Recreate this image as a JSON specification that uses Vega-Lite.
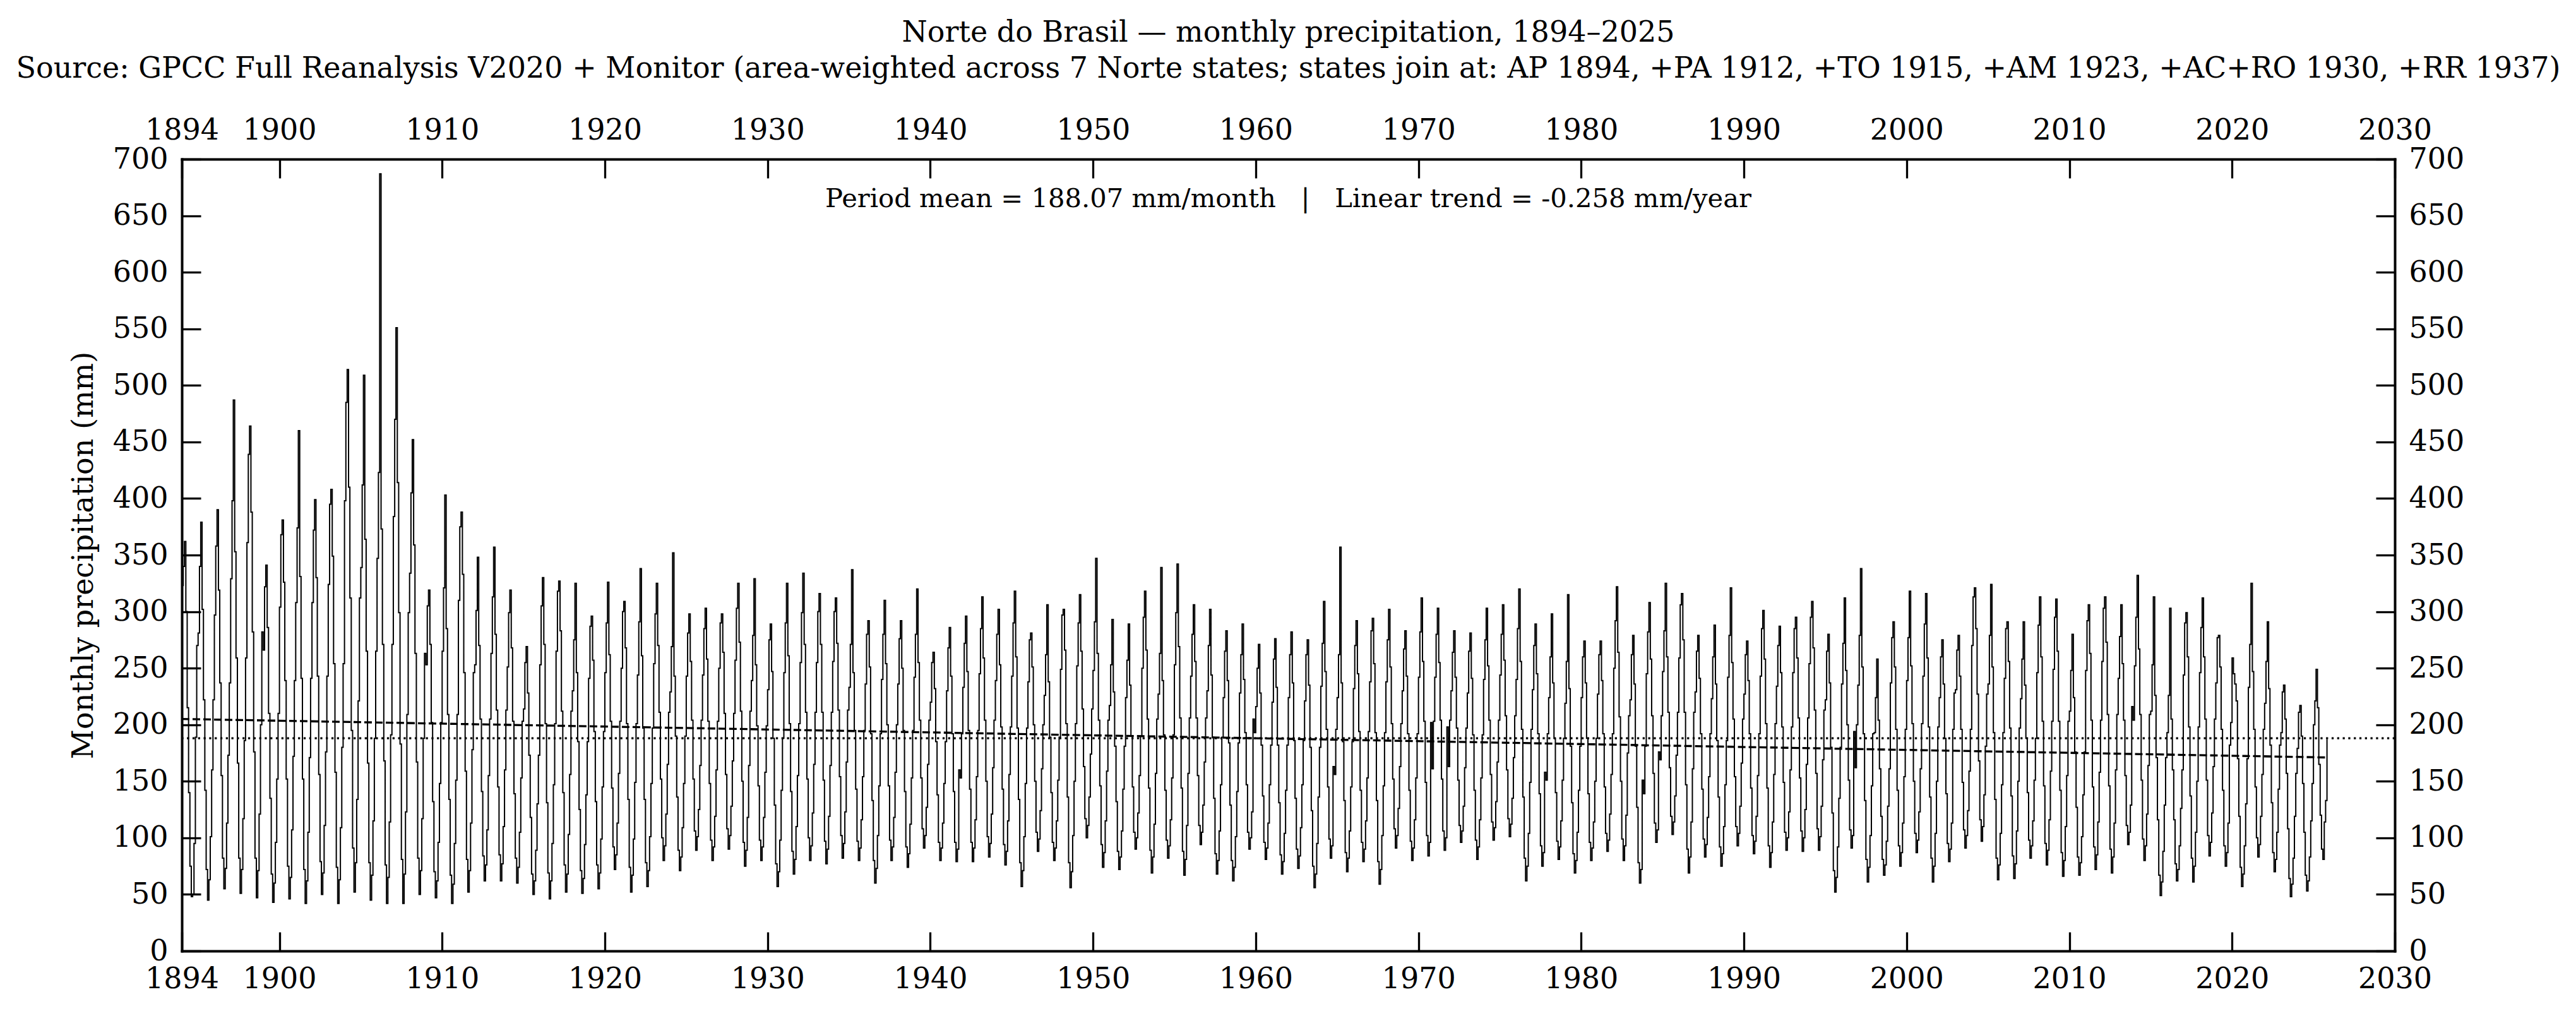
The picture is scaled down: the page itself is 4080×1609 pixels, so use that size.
{
  "$schema": "https://vega.github.io/schema/vega-lite/v6.json",
  "width": 3505,
  "height": 1254,
  "autosize": {"type": "none"},
  "padding": {"left": 288, "top": 252, "right": 287, "bottom": 103},
  "background": "white",
  "title": {
    "text": [
      "Norte do Brasil — monthly precipitation, 1894–2025",
      "Source: GPCC Full Reanalysis V2020 + Monitor (area-weighted across 7 Norte states; states join at: AP 1894, +PA 1912, +TO 1915, +AM 1923, +AC+RO 1930, +RR 1937)"
    ],
    "anchor": "middle",
    "font": "DejaVu Serif",
    "fontSize": 46,
    "fontWeight": "normal",
    "color": "black",
    "lineHeight": 57,
    "offset": 50
  },
  "config": {
    "font": "DejaVu Serif",
    "view": {"stroke": null},
    "axis": {
      "grid": false,
      "domainColor": "black",
      "domainWidth": 4,
      "domainCap": "square",
      "tickColor": "black",
      "tickWidth": 3.3,
      "tickSize": -30,
      "labelColor": "black",
      "labelFont": "DejaVu Serif",
      "labelFontSize": 46,
      "labelPadding": 52,
      "labelFlush": false,
      "labelOverlap": false,
      "labelBound": false,
      "titleFont": "DejaVu Serif",
      "titleFontSize": 46,
      "titleFontWeight": "normal",
      "titleColor": "black"
    }
  },
  "resolve": {"axis": {"x": "independent", "y": "independent"}},
  "layer": [
    {
      "data": {"values": [
{"d":"1894-01","p":323},{"d":"1894-02","p":340},{"d":"1894-03","p":362},{"d":"1894-04","p":300},{"d":"1894-05","p":215},{"d":"1894-06","p":140},{"d":"1894-07","p":75},{"d":"1894-08","p":48},{"d":"1894-09","p":50},{"d":"1894-10","p":95},{"d":"1894-11","p":189},{"d":"1894-12","p":270},
{"d":"1895-01","p":281},{"d":"1895-02","p":340},{"d":"1895-03","p":379},{"d":"1895-04","p":302},{"d":"1895-05","p":222},{"d":"1895-06","p":142},{"d":"1895-07","p":72},{"d":"1895-08","p":45},{"d":"1895-09","p":63},{"d":"1895-10","p":101},{"d":"1895-11","p":160},{"d":"1895-12","p":222},
{"d":"1896-01","p":297},{"d":"1896-02","p":358},{"d":"1896-03","p":390},{"d":"1896-04","p":319},{"d":"1896-05","p":237},{"d":"1896-06","p":155},{"d":"1896-07","p":82},{"d":"1896-08","p":55},{"d":"1896-09","p":73},{"d":"1896-10","p":113},{"d":"1896-11","p":173},{"d":"1896-12","p":237},
{"d":"1897-01","p":329},{"d":"1897-02","p":398},{"d":"1897-03","p":487},{"d":"1897-04","p":353},{"d":"1897-05","p":259},{"d":"1897-06","p":166},{"d":"1897-07","p":82},{"d":"1897-08","p":51},{"d":"1897-09","p":72},{"d":"1897-10","p":117},{"d":"1897-11","p":186},{"d":"1897-12","p":259},
{"d":"1898-01","p":361},{"d":"1898-02","p":439},{"d":"1898-03","p":464},{"d":"1898-04","p":388},{"d":"1898-05","p":282},{"d":"1898-06","p":176},{"d":"1898-07","p":82},{"d":"1898-08","p":47},{"d":"1898-09","p":71},{"d":"1898-10","p":121},{"d":"1898-11","p":200},{"d":"1898-12","p":282},
{"d":"1899-01","p":266},{"d":"1899-02","p":322},{"d":"1899-03","p":341},{"d":"1899-04","p":286},{"d":"1899-05","p":210},{"d":"1899-06","p":135},{"d":"1899-07","p":68},{"d":"1899-08","p":43},{"d":"1899-09","p":60},{"d":"1899-10","p":96},{"d":"1899-11","p":152},{"d":"1899-12","p":210},
{"d":"1900-01","p":304},{"d":"1900-02","p":368},{"d":"1900-03","p":381},{"d":"1900-04","p":326},{"d":"1900-05","p":239},{"d":"1900-06","p":152},{"d":"1900-07","p":75},{"d":"1900-08","p":46},{"d":"1900-09","p":65},{"d":"1900-10","p":107},{"d":"1900-11","p":172},{"d":"1900-12","p":239},
{"d":"1901-01","p":308},{"d":"1901-02","p":374},{"d":"1901-03","p":460},{"d":"1901-04","p":331},{"d":"1901-05","p":241},{"d":"1901-06","p":152},{"d":"1901-07","p":72},{"d":"1901-08","p":42},{"d":"1901-09","p":62},{"d":"1901-10","p":105},{"d":"1901-11","p":171},{"d":"1901-12","p":241},
{"d":"1902-01","p":308},{"d":"1902-02","p":372},{"d":"1902-03","p":399},{"d":"1902-04","p":330},{"d":"1902-05","p":243},{"d":"1902-06","p":156},{"d":"1902-07","p":79},{"d":"1902-08","p":50},{"d":"1902-09","p":69},{"d":"1902-10","p":111},{"d":"1902-11","p":176},{"d":"1902-12","p":243},
{"d":"1903-01","p":324},{"d":"1903-02","p":395},{"d":"1903-03","p":408},{"d":"1903-04","p":349},{"d":"1903-05","p":254},{"d":"1903-06","p":158},{"d":"1903-07","p":74},{"d":"1903-08","p":42},{"d":"1903-09","p":63},{"d":"1903-10","p":109},{"d":"1903-11","p":180},{"d":"1903-12","p":254},
{"d":"1904-01","p":398},{"d":"1904-02","p":485},{"d":"1904-03","p":514},{"d":"1904-04","p":410},{"d":"1904-05","p":312},{"d":"1904-06","p":195},{"d":"1904-07","p":91},{"d":"1904-08","p":52},{"d":"1904-09","p":78},{"d":"1904-10","p":134},{"d":"1904-11","p":221},{"d":"1904-12","p":312},
{"d":"1905-01","p":339},{"d":"1905-02","p":412},{"d":"1905-03","p":509},{"d":"1905-04","p":364},{"d":"1905-05","p":265},{"d":"1905-06","p":166},{"d":"1905-07","p":78},{"d":"1905-08","p":45},{"d":"1905-09","p":67},{"d":"1905-10","p":115},{"d":"1905-11","p":188},{"d":"1905-12","p":265},
{"d":"1906-01","p":347},{"d":"1906-02","p":423},{"d":"1906-03","p":687},{"d":"1906-04","p":373},{"d":"1906-05","p":271},{"d":"1906-06","p":168},{"d":"1906-07","p":76},{"d":"1906-08","p":42},{"d":"1906-09","p":65},{"d":"1906-10","p":114},{"d":"1906-11","p":191},{"d":"1906-12","p":271},
{"d":"1907-01","p":384},{"d":"1907-02","p":470},{"d":"1907-03","p":551},{"d":"1907-04","p":414},{"d":"1907-05","p":299},{"d":"1907-06","p":183},{"d":"1907-07","p":81},{"d":"1907-08","p":42},{"d":"1907-09","p":68},{"d":"1907-10","p":123},{"d":"1907-11","p":209},{"d":"1907-12","p":299},
{"d":"1908-01","p":334},{"d":"1908-02","p":405},{"d":"1908-03","p":452},{"d":"1908-04","p":359},{"d":"1908-05","p":263},{"d":"1908-06","p":167},{"d":"1908-07","p":82},{"d":"1908-08","p":50},{"d":"1908-09","p":71},{"d":"1908-10","p":117},{"d":"1908-11","p":188},{"d":"1908-12","p":263},
{"d":"1909-01","p":253},{"d":"1909-02","p":305},{"d":"1909-03","p":319},{"d":"1909-04","p":271},{"d":"1909-05","p":202},{"d":"1909-06","p":132},{"d":"1909-07","p":70},{"d":"1909-08","p":47},{"d":"1909-09","p":62},{"d":"1909-10","p":96},{"d":"1909-11","p":148},{"d":"1909-12","p":202},
{"d":"1910-01","p":265},{"d":"1910-02","p":321},{"d":"1910-03","p":403},{"d":"1910-04","p":285},{"d":"1910-05","p":209},{"d":"1910-06","p":134},{"d":"1910-07","p":67},{"d":"1910-08","p":42},{"d":"1910-09","p":59},{"d":"1910-10","p":95},{"d":"1910-11","p":151},{"d":"1910-12","p":209},
{"d":"1911-01","p":310},{"d":"1911-02","p":375},{"d":"1911-03","p":388},{"d":"1911-04","p":333},{"d":"1911-05","p":246},{"d":"1911-06","p":159},{"d":"1911-07","p":81},{"d":"1911-08","p":52},{"d":"1911-09","p":71},{"d":"1911-10","p":113},{"d":"1911-11","p":178},{"d":"1911-12","p":246},
{"d":"1912-01","p":253},{"d":"1912-02","p":301},{"d":"1912-03","p":348},{"d":"1912-04","p":270},{"d":"1912-05","p":205},{"d":"1912-06","p":141},{"d":"1912-07","p":84},{"d":"1912-08","p":62},{"d":"1912-09","p":76},{"d":"1912-10","p":107},{"d":"1912-11","p":155},{"d":"1912-12","p":205},
{"d":"1913-01","p":263},{"d":"1913-02","p":313},{"d":"1913-03","p":357},{"d":"1913-04","p":280},{"d":"1913-05","p":213},{"d":"1913-06","p":145},{"d":"1913-07","p":85},{"d":"1913-08","p":62},{"d":"1913-09","p":77},{"d":"1913-10","p":110},{"d":"1913-11","p":160},{"d":"1913-12","p":213},
{"d":"1914-01","p":251},{"d":"1914-02","p":299},{"d":"1914-03","p":319},{"d":"1914-04","p":268},{"d":"1914-05","p":203},{"d":"1914-06","p":139},{"d":"1914-07","p":82},{"d":"1914-08","p":60},{"d":"1914-09","p":74},{"d":"1914-10","p":105},{"d":"1914-11","p":153},{"d":"1914-12","p":203},
{"d":"1915-01","p":214},{"d":"1915-02","p":255},{"d":"1915-03","p":269},{"d":"1915-04","p":228},{"d":"1915-05","p":173},{"d":"1915-06","p":118},{"d":"1915-07","p":68},{"d":"1915-08","p":50},{"d":"1915-09","p":62},{"d":"1915-10","p":89},{"d":"1915-11","p":130},{"d":"1915-12","p":173},
{"d":"1916-01","p":253},{"d":"1916-02","p":305},{"d":"1916-03","p":330},{"d":"1916-04","p":271},{"d":"1916-05","p":201},{"d":"1916-06","p":131},{"d":"1916-07","p":69},{"d":"1916-08","p":46},{"d":"1916-09","p":62},{"d":"1916-10","p":95},{"d":"1916-11","p":147},{"d":"1916-12","p":201},
{"d":"1917-01","p":265},{"d":"1917-02","p":318},{"d":"1917-03","p":327},{"d":"1917-04","p":283},{"d":"1917-05","p":212},{"d":"1917-06","p":140},{"d":"1917-07","p":76},{"d":"1917-08","p":52},{"d":"1917-09","p":68},{"d":"1917-10","p":103},{"d":"1917-11","p":156},{"d":"1917-12","p":212},
{"d":"1918-01","p":230},{"d":"1918-02","p":275},{"d":"1918-03","p":325},{"d":"1918-04","p":246},{"d":"1918-05","p":185},{"d":"1918-06","p":125},{"d":"1918-07","p":71},{"d":"1918-08","p":51},{"d":"1918-09","p":64},{"d":"1918-10","p":94},{"d":"1918-11","p":138},{"d":"1918-12","p":185},
{"d":"1919-01","p":241},{"d":"1919-02","p":287},{"d":"1919-03","p":296},{"d":"1919-04","p":257},{"d":"1919-05","p":194},{"d":"1919-06","p":132},{"d":"1919-07","p":76},{"d":"1919-08","p":55},{"d":"1919-09","p":69},{"d":"1919-10","p":99},{"d":"1919-11","p":145},{"d":"1919-12","p":194},
{"d":"1920-01","p":246},{"d":"1920-02","p":290},{"d":"1920-03","p":326},{"d":"1920-04","p":262},{"d":"1920-05","p":203},{"d":"1920-06","p":144},{"d":"1920-07","p":92},{"d":"1920-08","p":72},{"d":"1920-09","p":85},{"d":"1920-10","p":113},{"d":"1920-11","p":157},{"d":"1920-12","p":203},
{"d":"1921-01","p":250},{"d":"1921-02","p":300},{"d":"1921-03","p":309},{"d":"1921-04","p":268},{"d":"1921-05","p":201},{"d":"1921-06","p":134},{"d":"1921-07","p":74},{"d":"1921-08","p":52},{"d":"1921-09","p":67},{"d":"1921-10","p":99},{"d":"1921-11","p":149},{"d":"1921-12","p":201},
{"d":"1922-01","p":244},{"d":"1922-02","p":291},{"d":"1922-03","p":338},{"d":"1922-04","p":261},{"d":"1922-05","p":197},{"d":"1922-06","p":134},{"d":"1922-07","p":78},{"d":"1922-08","p":57},{"d":"1922-09","p":71},{"d":"1922-10","p":101},{"d":"1922-11","p":148},{"d":"1922-12","p":197},
{"d":"1923-01","p":254},{"d":"1923-02","p":298},{"d":"1923-03","p":325},{"d":"1923-04","p":270},{"d":"1923-05","p":211},{"d":"1923-06","p":152},{"d":"1923-07","p":100},{"d":"1923-08","p":80},{"d":"1923-09","p":93},{"d":"1923-10","p":121},{"d":"1923-11","p":165},{"d":"1923-12","p":211},
{"d":"1924-01","p":229},{"d":"1924-02","p":269},{"d":"1924-03","p":352},{"d":"1924-04","p":243},{"d":"1924-05","p":190},{"d":"1924-06","p":136},{"d":"1924-07","p":89},{"d":"1924-08","p":71},{"d":"1924-09","p":83},{"d":"1924-10","p":109},{"d":"1924-11","p":148},{"d":"1924-12","p":190},
{"d":"1925-01","p":243},{"d":"1925-02","p":281},{"d":"1925-03","p":298},{"d":"1925-04","p":256},{"d":"1925-05","p":204},{"d":"1925-06","p":152},{"d":"1925-07","p":106},{"d":"1925-08","p":89},{"d":"1925-09","p":101},{"d":"1925-10","p":125},{"d":"1925-11","p":164},{"d":"1925-12","p":204},
{"d":"1926-01","p":244},{"d":"1926-02","p":285},{"d":"1926-03","p":303},{"d":"1926-04","p":258},{"d":"1926-05","p":203},{"d":"1926-06","p":148},{"d":"1926-07","p":98},{"d":"1926-08","p":80},{"d":"1926-09","p":92},{"d":"1926-10","p":119},{"d":"1926-11","p":160},{"d":"1926-12","p":203},
{"d":"1927-01","p":250},{"d":"1927-02","p":290},{"d":"1927-03","p":298},{"d":"1927-04","p":264},{"d":"1927-05","p":210},{"d":"1927-06","p":156},{"d":"1927-07","p":108},{"d":"1927-08","p":90},{"d":"1927-09","p":102},{"d":"1927-10","p":128},{"d":"1927-11","p":168},{"d":"1927-12","p":210},
{"d":"1928-01","p":257},{"d":"1928-02","p":303},{"d":"1928-03","p":325},{"d":"1928-04","p":273},{"d":"1928-05","p":212},{"d":"1928-06","p":150},{"d":"1928-07","p":96},{"d":"1928-08","p":75},{"d":"1928-09","p":89},{"d":"1928-10","p":118},{"d":"1928-11","p":164},{"d":"1928-12","p":212},
{"d":"1929-01","p":239},{"d":"1929-02","p":279},{"d":"1929-03","p":329},{"d":"1929-04","p":253},{"d":"1929-05","p":199},{"d":"1929-06","p":146},{"d":"1929-07","p":98},{"d":"1929-08","p":80},{"d":"1929-09","p":92},{"d":"1929-10","p":118},{"d":"1929-11","p":158},{"d":"1929-12","p":199},
{"d":"1930-01","p":231},{"d":"1930-02","p":275},{"d":"1930-03","p":289},{"d":"1930-04","p":247},{"d":"1930-05","p":188},{"d":"1930-06","p":129},{"d":"1930-07","p":77},{"d":"1930-08","p":57},{"d":"1930-09","p":70},{"d":"1930-10","p":98},{"d":"1930-11","p":142},{"d":"1930-12","p":188},
{"d":"1931-01","p":246},{"d":"1931-02","p":290},{"d":"1931-03","p":325},{"d":"1931-04","p":261},{"d":"1931-05","p":201},{"d":"1931-06","p":141},{"d":"1931-07","p":88},{"d":"1931-08","p":68},{"d":"1931-09","p":81},{"d":"1931-10","p":110},{"d":"1931-11","p":155},{"d":"1931-12","p":201},
{"d":"1932-01","p":255},{"d":"1932-02","p":299},{"d":"1932-03","p":334},{"d":"1932-04","p":271},{"d":"1932-05","p":211},{"d":"1932-06","p":152},{"d":"1932-07","p":100},{"d":"1932-08","p":80},{"d":"1932-09","p":93},{"d":"1932-10","p":122},{"d":"1932-11","p":165},{"d":"1932-12","p":211},
{"d":"1933-01","p":255},{"d":"1933-02","p":300},{"d":"1933-03","p":316},{"d":"1933-04","p":271},{"d":"1933-05","p":211},{"d":"1933-06","p":151},{"d":"1933-07","p":97},{"d":"1933-08","p":77},{"d":"1933-09","p":90},{"d":"1933-10","p":119},{"d":"1933-11","p":164},{"d":"1933-12","p":211},
{"d":"1934-01","p":256},{"d":"1934-02","p":300},{"d":"1934-03","p":312},{"d":"1934-04","p":272},{"d":"1934-05","p":213},{"d":"1934-06","p":154},{"d":"1934-07","p":102},{"d":"1934-08","p":82},{"d":"1934-09","p":95},{"d":"1934-10","p":123},{"d":"1934-11","p":167},{"d":"1934-12","p":213},
{"d":"1935-01","p":233},{"d":"1935-02","p":271},{"d":"1935-03","p":337},{"d":"1935-04","p":246},{"d":"1935-05","p":195},{"d":"1935-06","p":143},{"d":"1935-07","p":97},{"d":"1935-08","p":80},{"d":"1935-09","p":91},{"d":"1935-10","p":116},{"d":"1935-11","p":154},{"d":"1935-12","p":195},
{"d":"1936-01","p":236},{"d":"1936-02","p":280},{"d":"1936-03","p":292},{"d":"1936-04","p":251},{"d":"1936-05","p":192},{"d":"1936-06","p":133},{"d":"1936-07","p":80},{"d":"1936-08","p":60},{"d":"1936-09","p":73},{"d":"1936-10","p":102},{"d":"1936-11","p":146},{"d":"1936-12","p":192},
{"d":"1937-01","p":240},{"d":"1937-02","p":280},{"d":"1937-03","p":310},{"d":"1937-04","p":254},{"d":"1937-05","p":200},{"d":"1937-06","p":146},{"d":"1937-07","p":98},{"d":"1937-08","p":80},{"d":"1937-09","p":92},{"d":"1937-10","p":118},{"d":"1937-11","p":158},{"d":"1937-12","p":200},
{"d":"1938-01","p":236},{"d":"1938-02","p":276},{"d":"1938-03","p":292},{"d":"1938-04","p":250},{"d":"1938-05","p":195},{"d":"1938-06","p":141},{"d":"1938-07","p":92},{"d":"1938-08","p":74},{"d":"1938-09","p":86},{"d":"1938-10","p":112},{"d":"1938-11","p":153},{"d":"1938-12","p":195},
{"d":"1939-01","p":242},{"d":"1939-02","p":280},{"d":"1939-03","p":320},{"d":"1939-04","p":255},{"d":"1939-05","p":204},{"d":"1939-06","p":153},{"d":"1939-07","p":108},{"d":"1939-08","p":91},{"d":"1939-09","p":102},{"d":"1939-10","p":127},{"d":"1939-11","p":165},{"d":"1939-12","p":204},
{"d":"1940-01","p":220},{"d":"1940-02","p":255},{"d":"1940-03","p":264},{"d":"1940-04","p":232},{"d":"1940-05","p":185},{"d":"1940-06","p":138},{"d":"1940-07","p":96},{"d":"1940-08","p":80},{"d":"1940-09","p":91},{"d":"1940-10","p":113},{"d":"1940-11","p":148},{"d":"1940-12","p":185},
{"d":"1941-01","p":230},{"d":"1941-02","p":268},{"d":"1941-03","p":286},{"d":"1941-04","p":243},{"d":"1941-05","p":192},{"d":"1941-06","p":141},{"d":"1941-07","p":96},{"d":"1941-08","p":79},{"d":"1941-09","p":90},{"d":"1941-10","p":160},{"d":"1941-11","p":153},{"d":"1941-12","p":192},
{"d":"1942-01","p":233},{"d":"1942-02","p":272},{"d":"1942-03","p":296},{"d":"1942-04","p":247},{"d":"1942-05","p":195},{"d":"1942-06","p":143},{"d":"1942-07","p":96},{"d":"1942-08","p":79},{"d":"1942-09","p":91},{"d":"1942-10","p":116},{"d":"1942-11","p":154},{"d":"1942-12","p":195},
{"d":"1943-01","p":245},{"d":"1943-02","p":285},{"d":"1943-03","p":313},{"d":"1943-04","p":259},{"d":"1943-05","p":204},{"d":"1943-06","p":150},{"d":"1943-07","p":101},{"d":"1943-08","p":83},{"d":"1943-09","p":95},{"d":"1943-10","p":121},{"d":"1943-11","p":162},{"d":"1943-12","p":204},
{"d":"1944-01","p":239},{"d":"1944-02","p":280},{"d":"1944-03","p":302},{"d":"1944-04","p":253},{"d":"1944-05","p":198},{"d":"1944-06","p":143},{"d":"1944-07","p":94},{"d":"1944-08","p":76},{"d":"1944-09","p":88},{"d":"1944-10","p":115},{"d":"1944-11","p":156},{"d":"1944-12","p":198},
{"d":"1945-01","p":243},{"d":"1945-02","p":290},{"d":"1945-03","p":318},{"d":"1945-04","p":260},{"d":"1945-05","p":197},{"d":"1945-06","p":134},{"d":"1945-07","p":78},{"d":"1945-08","p":57},{"d":"1945-09","p":71},{"d":"1945-10","p":101},{"d":"1945-11","p":148},{"d":"1945-12","p":197},
{"d":"1946-01","p":238},{"d":"1946-02","p":275},{"d":"1946-03","p":281},{"d":"1946-04","p":251},{"d":"1946-05","p":200},{"d":"1946-06","p":150},{"d":"1946-07","p":105},{"d":"1946-08","p":88},{"d":"1946-09","p":99},{"d":"1946-10","p":124},{"d":"1946-11","p":161},{"d":"1946-12","p":200},
{"d":"1947-01","p":226},{"d":"1947-02","p":262},{"d":"1947-03","p":306},{"d":"1947-04","p":238},{"d":"1947-05","p":189},{"d":"1947-06","p":140},{"d":"1947-07","p":96},{"d":"1947-08","p":80},{"d":"1947-09","p":91},{"d":"1947-10","p":115},{"d":"1947-11","p":151},{"d":"1947-12","p":189},
{"d":"1948-01","p":249},{"d":"1948-02","p":297},{"d":"1948-03","p":302},{"d":"1948-04","p":266},{"d":"1948-05","p":201},{"d":"1948-06","p":136},{"d":"1948-07","p":78},{"d":"1948-08","p":56},{"d":"1948-09","p":70},{"d":"1948-10","p":102},{"d":"1948-11","p":150},{"d":"1948-12","p":201},
{"d":"1949-01","p":252},{"d":"1949-02","p":290},{"d":"1949-03","p":315},{"d":"1949-04","p":265},{"d":"1949-05","p":214},{"d":"1949-06","p":163},{"d":"1949-07","p":117},{"d":"1949-08","p":100},{"d":"1949-09","p":111},{"d":"1949-10","p":136},{"d":"1949-11","p":174},{"d":"1949-12","p":214},
{"d":"1950-01","p":248},{"d":"1950-02","p":291},{"d":"1950-03","p":347},{"d":"1950-04","p":263},{"d":"1950-05","p":204},{"d":"1950-06","p":146},{"d":"1950-07","p":94},{"d":"1950-08","p":74},{"d":"1950-09","p":87},{"d":"1950-10","p":115},{"d":"1950-11","p":159},{"d":"1950-12","p":204},
{"d":"1951-01","p":217},{"d":"1951-02","p":253},{"d":"1951-03","p":293},{"d":"1951-04","p":229},{"d":"1951-05","p":181},{"d":"1951-06","p":132},{"d":"1951-07","p":88},{"d":"1951-08","p":72},{"d":"1951-09","p":83},{"d":"1951-10","p":106},{"d":"1951-11","p":143},{"d":"1951-12","p":181},
{"d":"1952-01","p":224},{"d":"1952-02","p":257},{"d":"1952-03","p":289},{"d":"1952-04","p":235},{"d":"1952-05","p":190},{"d":"1952-06","p":145},{"d":"1952-07","p":105},{"d":"1952-08","p":90},{"d":"1952-09","p":100},{"d":"1952-10","p":122},{"d":"1952-11","p":155},{"d":"1952-12","p":190},
{"d":"1953-01","p":250},{"d":"1953-02","p":295},{"d":"1953-03","p":318},{"d":"1953-04","p":266},{"d":"1953-05","p":205},{"d":"1953-06","p":144},{"d":"1953-07","p":89},{"d":"1953-08","p":69},{"d":"1953-09","p":83},{"d":"1953-10","p":112},{"d":"1953-11","p":157},{"d":"1953-12","p":205},
{"d":"1954-01","p":227},{"d":"1954-02","p":263},{"d":"1954-03","p":339},{"d":"1954-04","p":239},{"d":"1954-05","p":191},{"d":"1954-06","p":142},{"d":"1954-07","p":98},{"d":"1954-08","p":82},{"d":"1954-09","p":93},{"d":"1954-10","p":116},{"d":"1954-11","p":153},{"d":"1954-12","p":191},
{"d":"1955-01","p":253},{"d":"1955-02","p":299},{"d":"1955-03","p":342},{"d":"1955-04","p":269},{"d":"1955-05","p":206},{"d":"1955-06","p":144},{"d":"1955-07","p":88},{"d":"1955-08","p":67},{"d":"1955-09","p":81},{"d":"1955-10","p":111},{"d":"1955-11","p":157},{"d":"1955-12","p":206},
{"d":"1956-01","p":243},{"d":"1956-02","p":280},{"d":"1956-03","p":306},{"d":"1956-04","p":256},{"d":"1956-05","p":206},{"d":"1956-06","p":155},{"d":"1956-07","p":111},{"d":"1956-08","p":94},{"d":"1956-09","p":105},{"d":"1956-10","p":129},{"d":"1956-11","p":167},{"d":"1956-12","p":206},
{"d":"1957-01","p":230},{"d":"1957-02","p":270},{"d":"1957-03","p":302},{"d":"1957-04","p":244},{"d":"1957-05","p":189},{"d":"1957-06","p":135},{"d":"1957-07","p":86},{"d":"1957-08","p":68},{"d":"1957-09","p":80},{"d":"1957-10","p":106},{"d":"1957-11","p":147},{"d":"1957-12","p":189},
{"d":"1958-01","p":224},{"d":"1958-02","p":265},{"d":"1958-03","p":283},{"d":"1958-04","p":239},{"d":"1958-05","p":184},{"d":"1958-06","p":129},{"d":"1958-07","p":80},{"d":"1958-08","p":62},{"d":"1958-09","p":74},{"d":"1958-10","p":101},{"d":"1958-11","p":141},{"d":"1958-12","p":184},
{"d":"1959-01","p":228},{"d":"1959-02","p":262},{"d":"1959-03","p":289},{"d":"1959-04","p":240},{"d":"1959-05","p":193},{"d":"1959-06","p":147},{"d":"1959-07","p":105},{"d":"1959-08","p":90},{"d":"1959-09","p":100},{"d":"1959-10","p":123},{"d":"1959-11","p":205},{"d":"1959-12","p":193},
{"d":"1960-01","p":216},{"d":"1960-02","p":250},{"d":"1960-03","p":271},{"d":"1960-04","p":228},{"d":"1960-05","p":182},{"d":"1960-06","p":137},{"d":"1960-07","p":96},{"d":"1960-08","p":81},{"d":"1960-09","p":91},{"d":"1960-10","p":113},{"d":"1960-11","p":147},{"d":"1960-12","p":182},
{"d":"1961-01","p":220},{"d":"1961-02","p":258},{"d":"1961-03","p":276},{"d":"1961-04","p":233},{"d":"1961-05","p":182},{"d":"1961-06","p":131},{"d":"1961-07","p":85},{"d":"1961-08","p":68},{"d":"1961-09","p":79},{"d":"1961-10","p":104},{"d":"1961-11","p":142},{"d":"1961-12","p":182},
{"d":"1962-01","p":224},{"d":"1962-02","p":262},{"d":"1962-03","p":282},{"d":"1962-04","p":237},{"d":"1962-05","p":186},{"d":"1962-06","p":135},{"d":"1962-07","p":90},{"d":"1962-08","p":73},{"d":"1962-09","p":84},{"d":"1962-10","p":109},{"d":"1962-11","p":147},{"d":"1962-12","p":186},
{"d":"1963-01","p":221},{"d":"1963-02","p":262},{"d":"1963-03","p":275},{"d":"1963-04","p":235},{"d":"1963-05","p":180},{"d":"1963-06","p":124},{"d":"1963-07","p":75},{"d":"1963-08","p":56},{"d":"1963-09","p":68},{"d":"1963-10","p":95},{"d":"1963-11","p":136},{"d":"1963-12","p":180},
{"d":"1964-01","p":234},{"d":"1964-02","p":272},{"d":"1964-03","p":309},{"d":"1964-04","p":247},{"d":"1964-05","p":196},{"d":"1964-06","p":145},{"d":"1964-07","p":99},{"d":"1964-08","p":82},{"d":"1964-09","p":93},{"d":"1964-10","p":163},{"d":"1964-11","p":156},{"d":"1964-12","p":196},
{"d":"1965-01","p":224},{"d":"1965-02","p":262},{"d":"1965-03","p":357},{"d":"1965-04","p":237},{"d":"1965-05","p":185},{"d":"1965-06","p":133},{"d":"1965-07","p":87},{"d":"1965-08","p":70},{"d":"1965-09","p":82},{"d":"1965-10","p":106},{"d":"1965-11","p":145},{"d":"1965-12","p":185},
{"d":"1966-01","p":232},{"d":"1966-02","p":270},{"d":"1966-03","p":292},{"d":"1966-04","p":245},{"d":"1966-05","p":194},{"d":"1966-06","p":142},{"d":"1966-07","p":96},{"d":"1966-08","p":79},{"d":"1966-09","p":90},{"d":"1966-10","p":115},{"d":"1966-11","p":153},{"d":"1966-12","p":194},
{"d":"1967-01","p":238},{"d":"1967-02","p":283},{"d":"1967-03","p":294},{"d":"1967-04","p":254},{"d":"1967-05","p":193},{"d":"1967-06","p":133},{"d":"1967-07","p":79},{"d":"1967-08","p":59},{"d":"1967-09","p":72},{"d":"1967-10","p":102},{"d":"1967-11","p":146},{"d":"1967-12","p":193},
{"d":"1968-01","p":238},{"d":"1968-02","p":275},{"d":"1968-03","p":302},{"d":"1968-04","p":251},{"d":"1968-05","p":201},{"d":"1968-06","p":152},{"d":"1968-07","p":108},{"d":"1968-08","p":91},{"d":"1968-09","p":102},{"d":"1968-10","p":126},{"d":"1968-11","p":163},{"d":"1968-12","p":201},
{"d":"1969-01","p":230},{"d":"1969-02","p":267},{"d":"1969-03","p":283},{"d":"1969-04","p":243},{"d":"1969-05","p":192},{"d":"1969-06","p":142},{"d":"1969-07","p":97},{"d":"1969-08","p":80},{"d":"1969-09","p":91},{"d":"1969-10","p":116},{"d":"1969-11","p":153},{"d":"1969-12","p":192},
{"d":"1970-01","p":242},{"d":"1970-02","p":282},{"d":"1970-03","p":312},{"d":"1970-04","p":256},{"d":"1970-05","p":203},{"d":"1970-06","p":149},{"d":"1970-07","p":102},{"d":"1970-08","p":84},{"d":"1970-09","p":96},{"d":"1970-10","p":202},{"d":"1970-11","p":161},{"d":"1970-12","p":203},
{"d":"1971-01","p":242},{"d":"1971-02","p":280},{"d":"1971-03","p":303},{"d":"1971-04","p":255},{"d":"1971-05","p":204},{"d":"1971-06","p":152},{"d":"1971-07","p":106},{"d":"1971-08","p":89},{"d":"1971-09","p":100},{"d":"1971-10","p":198},{"d":"1971-11","p":163},{"d":"1971-12","p":204},
{"d":"1972-01","p":230},{"d":"1972-02","p":264},{"d":"1972-03","p":283},{"d":"1972-04","p":242},{"d":"1972-05","p":197},{"d":"1972-06","p":151},{"d":"1972-07","p":111},{"d":"1972-08","p":96},{"d":"1972-09","p":106},{"d":"1972-10","p":128},{"d":"1972-11","p":162},{"d":"1972-12","p":197},
{"d":"1973-01","p":228},{"d":"1973-02","p":265},{"d":"1973-03","p":281},{"d":"1973-04","p":241},{"d":"1973-05","p":191},{"d":"1973-06","p":142},{"d":"1973-07","p":98},{"d":"1973-08","p":81},{"d":"1973-09","p":92},{"d":"1973-10","p":116},{"d":"1973-11","p":153},{"d":"1973-12","p":191},
{"d":"1974-01","p":240},{"d":"1974-02","p":275},{"d":"1974-03","p":303},{"d":"1974-04","p":252},{"d":"1974-05","p":204},{"d":"1974-06","p":156},{"d":"1974-07","p":114},{"d":"1974-08","p":98},{"d":"1974-09","p":109},{"d":"1974-10","p":132},{"d":"1974-11","p":167},{"d":"1974-12","p":204},
{"d":"1975-01","p":244},{"d":"1975-02","p":280},{"d":"1975-03","p":306},{"d":"1975-04","p":257},{"d":"1975-05","p":208},{"d":"1975-06","p":160},{"d":"1975-07","p":117},{"d":"1975-08","p":101},{"d":"1975-09","p":112},{"d":"1975-10","p":135},{"d":"1975-11","p":171},{"d":"1975-12","p":208},
{"d":"1976-01","p":240},{"d":"1976-02","p":285},{"d":"1976-03","p":320},{"d":"1976-04","p":256},{"d":"1976-05","p":196},{"d":"1976-06","p":136},{"d":"1976-07","p":82},{"d":"1976-08","p":62},{"d":"1976-09","p":75},{"d":"1976-10","p":104},{"d":"1976-11","p":149},{"d":"1976-12","p":196},
{"d":"1977-01","p":231},{"d":"1977-02","p":270},{"d":"1977-03","p":289},{"d":"1977-04","p":245},{"d":"1977-05","p":192},{"d":"1977-06","p":139},{"d":"1977-07","p":93},{"d":"1977-08","p":75},{"d":"1977-09","p":87},{"d":"1977-10","p":158},{"d":"1977-11","p":151},{"d":"1977-12","p":192},
{"d":"1978-01","p":224},{"d":"1978-02","p":260},{"d":"1978-03","p":298},{"d":"1978-04","p":237},{"d":"1978-05","p":188},{"d":"1978-06","p":140},{"d":"1978-07","p":97},{"d":"1978-08","p":81},{"d":"1978-09","p":92},{"d":"1978-10","p":115},{"d":"1978-11","p":151},{"d":"1978-12","p":188},
{"d":"1979-01","p":219},{"d":"1979-02","p":256},{"d":"1979-03","p":315},{"d":"1979-04","p":232},{"d":"1979-05","p":181},{"d":"1979-06","p":131},{"d":"1979-07","p":86},{"d":"1979-08","p":69},{"d":"1979-09","p":80},{"d":"1979-10","p":105},{"d":"1979-11","p":142},{"d":"1979-12","p":181},
{"d":"1980-01","p":224},{"d":"1980-02","p":260},{"d":"1980-03","p":274},{"d":"1980-04","p":237},{"d":"1980-05","p":188},{"d":"1980-06","p":139},{"d":"1980-07","p":96},{"d":"1980-08","p":80},{"d":"1980-09","p":91},{"d":"1980-10","p":114},{"d":"1980-11","p":150},{"d":"1980-12","p":188},
{"d":"1981-01","p":227},{"d":"1981-02","p":262},{"d":"1981-03","p":274},{"d":"1981-04","p":239},{"d":"1981-05","p":192},{"d":"1981-06","p":145},{"d":"1981-07","p":104},{"d":"1981-08","p":88},{"d":"1981-09","p":98},{"d":"1981-10","p":121},{"d":"1981-11","p":156},{"d":"1981-12","p":192},
{"d":"1982-01","p":250},{"d":"1982-02","p":292},{"d":"1982-03","p":322},{"d":"1982-04","p":264},{"d":"1982-05","p":207},{"d":"1982-06","p":150},{"d":"1982-07","p":99},{"d":"1982-08","p":80},{"d":"1982-09","p":93},{"d":"1982-10","p":120},{"d":"1982-11","p":175},{"d":"1982-12","p":208},
{"d":"1983-01","p":222},{"d":"1983-02","p":262},{"d":"1983-03","p":279},{"d":"1983-04","p":236},{"d":"1983-05","p":181},{"d":"1983-06","p":127},{"d":"1983-07","p":78},{"d":"1983-08","p":60},{"d":"1983-09","p":72},{"d":"1983-10","p":151},{"d":"1983-11","p":139},{"d":"1983-12","p":181},
{"d":"1984-01","p":245},{"d":"1984-02","p":282},{"d":"1984-03","p":308},{"d":"1984-04","p":258},{"d":"1984-05","p":208},{"d":"1984-06","p":157},{"d":"1984-07","p":113},{"d":"1984-08","p":96},{"d":"1984-09","p":107},{"d":"1984-10","p":176},{"d":"1984-11","p":169},{"d":"1984-12","p":208},
{"d":"1985-01","p":247},{"d":"1985-02","p":283},{"d":"1985-03","p":325},{"d":"1985-04","p":260},{"d":"1985-05","p":211},{"d":"1985-06","p":162},{"d":"1985-07","p":119},{"d":"1985-08","p":103},{"d":"1985-09","p":114},{"d":"1985-10","p":137},{"d":"1985-11","p":173},{"d":"1985-12","p":211},
{"d":"1986-01","p":259},{"d":"1986-02","p":306},{"d":"1986-03","p":316},{"d":"1986-04","p":275},{"d":"1986-05","p":211},{"d":"1986-06","p":147},{"d":"1986-07","p":90},{"d":"1986-08","p":69},{"d":"1986-09","p":83},{"d":"1986-10","p":114},{"d":"1986-11","p":161},{"d":"1986-12","p":211},
{"d":"1987-01","p":229},{"d":"1987-02","p":265},{"d":"1987-03","p":279},{"d":"1987-04","p":241},{"d":"1987-05","p":192},{"d":"1987-06","p":143},{"d":"1987-07","p":99},{"d":"1987-08","p":83},{"d":"1987-09","p":94},{"d":"1987-10","p":118},{"d":"1987-11","p":154},{"d":"1987-12","p":192},
{"d":"1988-01","p":223},{"d":"1988-02","p":260},{"d":"1988-03","p":288},{"d":"1988-04","p":236},{"d":"1988-05","p":186},{"d":"1988-06","p":136},{"d":"1988-07","p":92},{"d":"1988-08","p":75},{"d":"1988-09","p":86},{"d":"1988-10","p":110},{"d":"1988-11","p":147},{"d":"1988-12","p":186},
{"d":"1989-01","p":242},{"d":"1989-02","p":279},{"d":"1989-03","p":321},{"d":"1989-04","p":255},{"d":"1989-05","p":205},{"d":"1989-06","p":154},{"d":"1989-07","p":110},{"d":"1989-08","p":93},{"d":"1989-09","p":104},{"d":"1989-10","p":128},{"d":"1989-11","p":166},{"d":"1989-12","p":205},
{"d":"1990-01","p":227},{"d":"1990-02","p":262},{"d":"1990-03","p":274},{"d":"1990-04","p":239},{"d":"1990-05","p":192},{"d":"1990-06","p":144},{"d":"1990-07","p":102},{"d":"1990-08","p":86},{"d":"1990-09","p":97},{"d":"1990-10","p":119},{"d":"1990-11","p":155},{"d":"1990-12","p":192},
{"d":"1991-01","p":243},{"d":"1991-02","p":285},{"d":"1991-03","p":301},{"d":"1991-04","p":258},{"d":"1991-05","p":201},{"d":"1991-06","p":144},{"d":"1991-07","p":93},{"d":"1991-08","p":74},{"d":"1991-09","p":87},{"d":"1991-10","p":114},{"d":"1991-11","p":156},{"d":"1991-12","p":201},
{"d":"1992-01","p":234},{"d":"1992-02","p":270},{"d":"1992-03","p":287},{"d":"1992-04","p":246},{"d":"1992-05","p":198},{"d":"1992-06","p":149},{"d":"1992-07","p":105},{"d":"1992-08","p":89},{"d":"1992-09","p":100},{"d":"1992-10","p":123},{"d":"1992-11","p":160},{"d":"1992-12","p":198},
{"d":"1993-01","p":246},{"d":"1993-02","p":285},{"d":"1993-03","p":295},{"d":"1993-04","p":259},{"d":"1993-05","p":206},{"d":"1993-06","p":153},{"d":"1993-07","p":106},{"d":"1993-08","p":88},{"d":"1993-09","p":100},{"d":"1993-10","p":125},{"d":"1993-11","p":165},{"d":"1993-12","p":206},
{"d":"1994-01","p":254},{"d":"1994-02","p":295},{"d":"1994-03","p":309},{"d":"1994-04","p":268},{"d":"1994-05","p":213},{"d":"1994-06","p":157},{"d":"1994-07","p":108},{"d":"1994-08","p":89},{"d":"1994-09","p":101},{"d":"1994-10","p":128},{"d":"1994-11","p":169},{"d":"1994-12","p":213},
{"d":"1995-01","p":222},{"d":"1995-02","p":265},{"d":"1995-03","p":280},{"d":"1995-04","p":237},{"d":"1995-05","p":180},{"d":"1995-06","p":122},{"d":"1995-07","p":71},{"d":"1995-08","p":52},{"d":"1995-09","p":65},{"d":"1995-10","p":92},{"d":"1995-11","p":135},{"d":"1995-12","p":180},
{"d":"1996-01","p":236},{"d":"1996-02","p":272},{"d":"1996-03","p":312},{"d":"1996-04","p":248},{"d":"1996-05","p":200},{"d":"1996-06","p":151},{"d":"1996-07","p":107},{"d":"1996-08","p":91},{"d":"1996-09","p":102},{"d":"1996-10","p":194},{"d":"1996-11","p":162},{"d":"1996-12","p":200},
{"d":"1997-01","p":235},{"d":"1997-02","p":279},{"d":"1997-03","p":338},{"d":"1997-04","p":251},{"d":"1997-05","p":192},{"d":"1997-06","p":133},{"d":"1997-07","p":81},{"d":"1997-08","p":61},{"d":"1997-09","p":74},{"d":"1997-10","p":102},{"d":"1997-11","p":146},{"d":"1997-12","p":192},
{"d":"1998-01","p":193},{"d":"1998-02","p":224},{"d":"1998-03","p":258},{"d":"1998-04","p":204},{"d":"1998-05","p":161},{"d":"1998-06","p":119},{"d":"1998-07","p":81},{"d":"1998-08","p":67},{"d":"1998-09","p":76},{"d":"1998-10","p":97},{"d":"1998-11","p":128},{"d":"1998-12","p":161},
{"d":"1999-01","p":237},{"d":"1999-02","p":277},{"d":"1999-03","p":291},{"d":"1999-04","p":251},{"d":"1999-05","p":196},{"d":"1999-06","p":142},{"d":"1999-07","p":93},{"d":"1999-08","p":75},{"d":"1999-09","p":87},{"d":"1999-10","p":113},{"d":"1999-11","p":154},{"d":"1999-12","p":196},
{"d":"2000-01","p":239},{"d":"2000-02","p":277},{"d":"2000-03","p":318},{"d":"2000-04","p":252},{"d":"2000-05","p":201},{"d":"2000-06","p":150},{"d":"2000-07","p":104},{"d":"2000-08","p":87},{"d":"2000-09","p":98},{"d":"2000-10","p":123},{"d":"2000-11","p":161},{"d":"2000-12","p":201},
{"d":"2001-01","p":243},{"d":"2001-02","p":289},{"d":"2001-03","p":316},{"d":"2001-04","p":259},{"d":"2001-05","p":198},{"d":"2001-06","p":136},{"d":"2001-07","p":82},{"d":"2001-08","p":61},{"d":"2001-09","p":75},{"d":"2001-10","p":104},{"d":"2001-11","p":150},{"d":"2001-12","p":198},
{"d":"2002-01","p":224},{"d":"2002-02","p":260},{"d":"2002-03","p":275},{"d":"2002-04","p":236},{"d":"2002-05","p":188},{"d":"2002-06","p":139},{"d":"2002-07","p":95},{"d":"2002-08","p":79},{"d":"2002-09","p":90},{"d":"2002-10","p":113},{"d":"2002-11","p":196},{"d":"2002-12","p":228},
{"d":"2003-01","p":231},{"d":"2003-02","p":266},{"d":"2003-03","p":279},{"d":"2003-04","p":243},{"d":"2003-05","p":196},{"d":"2003-06","p":149},{"d":"2003-07","p":107},{"d":"2003-08","p":91},{"d":"2003-09","p":102},{"d":"2003-10","p":124},{"d":"2003-11","p":159},{"d":"2003-12","p":196},
{"d":"2004-01","p":270},{"d":"2004-02","p":313},{"d":"2004-03","p":321},{"d":"2004-04","p":285},{"d":"2004-05","p":227},{"d":"2004-06","p":168},{"d":"2004-07","p":116},{"d":"2004-08","p":97},{"d":"2004-09","p":110},{"d":"2004-10","p":138},{"d":"2004-11","p":181},{"d":"2004-12","p":227},
{"d":"2005-01","p":236},{"d":"2005-02","p":279},{"d":"2005-03","p":324},{"d":"2005-04","p":251},{"d":"2005-05","p":193},{"d":"2005-06","p":134},{"d":"2005-07","p":82},{"d":"2005-08","p":63},{"d":"2005-09","p":76},{"d":"2005-10","p":104},{"d":"2005-11","p":147},{"d":"2005-12","p":193},
{"d":"2006-01","p":241},{"d":"2006-02","p":285},{"d":"2006-03","p":291},{"d":"2006-04","p":256},{"d":"2006-05","p":197},{"d":"2006-06","p":137},{"d":"2006-07","p":84},{"d":"2006-08","p":64},{"d":"2006-09","p":77},{"d":"2006-10","p":106},{"d":"2006-11","p":150},{"d":"2006-12","p":197},
{"d":"2007-01","p":223},{"d":"2007-02","p":258},{"d":"2007-03","p":291},{"d":"2007-04","p":235},{"d":"2007-05","p":188},{"d":"2007-06","p":140},{"d":"2007-07","p":98},{"d":"2007-08","p":82},{"d":"2007-09","p":93},{"d":"2007-10","p":115},{"d":"2007-11","p":151},{"d":"2007-12","p":188},
{"d":"2008-01","p":246},{"d":"2008-02","p":288},{"d":"2008-03","p":313},{"d":"2008-04","p":260},{"d":"2008-05","p":203},{"d":"2008-06","p":146},{"d":"2008-07","p":95},{"d":"2008-08","p":76},{"d":"2008-09","p":89},{"d":"2008-10","p":116},{"d":"2008-11","p":159},{"d":"2008-12","p":203},
{"d":"2009-01","p":249},{"d":"2009-02","p":295},{"d":"2009-03","p":311},{"d":"2009-04","p":265},{"d":"2009-05","p":203},{"d":"2009-06","p":142},{"d":"2009-07","p":87},{"d":"2009-08","p":66},{"d":"2009-09","p":80},{"d":"2009-10","p":110},{"d":"2009-11","p":155},{"d":"2009-12","p":203},
{"d":"2010-01","p":212},{"d":"2010-02","p":248},{"d":"2010-03","p":280},{"d":"2010-04","p":224},{"d":"2010-05","p":176},{"d":"2010-06","p":127},{"d":"2010-07","p":83},{"d":"2010-08","p":67},{"d":"2010-09","p":78},{"d":"2010-10","p":101},{"d":"2010-11","p":138},{"d":"2010-12","p":176},
{"d":"2011-01","p":248},{"d":"2011-02","p":292},{"d":"2011-03","p":306},{"d":"2011-04","p":263},{"d":"2011-05","p":204},{"d":"2011-06","p":145},{"d":"2011-07","p":92},{"d":"2011-08","p":72},{"d":"2011-09","p":85},{"d":"2011-10","p":114},{"d":"2011-11","p":158},{"d":"2011-12","p":204},
{"d":"2012-01","p":256},{"d":"2012-02","p":303},{"d":"2012-03","p":313},{"d":"2012-04","p":273},{"d":"2012-05","p":209},{"d":"2012-06","p":146},{"d":"2012-07","p":90},{"d":"2012-08","p":69},{"d":"2012-09","p":83},{"d":"2012-10","p":113},{"d":"2012-11","p":160},{"d":"2012-12","p":209},
{"d":"2013-01","p":241},{"d":"2013-02","p":278},{"d":"2013-03","p":306},{"d":"2013-04","p":254},{"d":"2013-05","p":204},{"d":"2013-06","p":155},{"d":"2013-07","p":111},{"d":"2013-08","p":94},{"d":"2013-09","p":105},{"d":"2013-10","p":129},{"d":"2013-11","p":216},{"d":"2013-12","p":204},
{"d":"2014-01","p":252},{"d":"2014-02","p":295},{"d":"2014-03","p":332},{"d":"2014-04","p":267},{"d":"2014-05","p":209},{"d":"2014-06","p":151},{"d":"2014-07","p":99},{"d":"2014-08","p":80},{"d":"2014-09","p":93},{"d":"2014-10","p":121},{"d":"2014-11","p":164},{"d":"2014-12","p":209},
{"d":"2015-01","p":212},{"d":"2015-02","p":253},{"d":"2015-03","p":313},{"d":"2015-04","p":226},{"d":"2015-05","p":171},{"d":"2015-06","p":116},{"d":"2015-07","p":67},{"d":"2015-08","p":49},{"d":"2015-09","p":61},{"d":"2015-10","p":88},{"d":"2015-11","p":129},{"d":"2015-12","p":171},
{"d":"2016-01","p":193},{"d":"2016-02","p":226},{"d":"2016-03","p":303},{"d":"2016-04","p":205},{"d":"2016-05","p":160},{"d":"2016-06","p":116},{"d":"2016-07","p":77},{"d":"2016-08","p":62},{"d":"2016-09","p":72},{"d":"2016-10","p":93},{"d":"2016-11","p":126},{"d":"2016-12","p":160},
{"d":"2017-01","p":244},{"d":"2017-02","p":290},{"d":"2017-03","p":299},{"d":"2017-04","p":260},{"d":"2017-05","p":198},{"d":"2017-06","p":137},{"d":"2017-07","p":82},{"d":"2017-08","p":61},{"d":"2017-09","p":75},{"d":"2017-10","p":105},{"d":"2017-11","p":150},{"d":"2017-12","p":198},
{"d":"2018-01","p":246},{"d":"2018-02","p":286},{"d":"2018-03","p":312},{"d":"2018-04","p":260},{"d":"2018-05","p":205},{"d":"2018-06","p":151},{"d":"2018-07","p":102},{"d":"2018-08","p":84},{"d":"2018-09","p":96},{"d":"2018-10","p":122},{"d":"2018-11","p":163},{"d":"2018-12","p":205},
{"d":"2019-01","p":237},{"d":"2019-02","p":277},{"d":"2019-03","p":279},{"d":"2019-04","p":251},{"d":"2019-05","p":196},{"d":"2019-06","p":142},{"d":"2019-07","p":93},{"d":"2019-08","p":75},{"d":"2019-09","p":87},{"d":"2019-10","p":113},{"d":"2019-11","p":182},{"d":"2019-12","p":202},
{"d":"2020-01","p":259},{"d":"2020-02","p":245},{"d":"2020-03","p":236},{"d":"2020-04","p":221},{"d":"2020-05","p":170},{"d":"2020-06","p":119},{"d":"2020-07","p":74},{"d":"2020-08","p":57},{"d":"2020-09","p":68},{"d":"2020-10","p":93},{"d":"2020-11","p":130},{"d":"2020-12","p":170},
{"d":"2021-01","p":233},{"d":"2021-02","p":271},{"d":"2021-03","p":325},{"d":"2021-04","p":247},{"d":"2021-05","p":196},{"d":"2021-06","p":145},{"d":"2021-07","p":100},{"d":"2021-08","p":83},{"d":"2021-09","p":94},{"d":"2021-10","p":119},{"d":"2021-11","p":156},{"d":"2021-12","p":196},
{"d":"2022-01","p":219},{"d":"2022-02","p":256},{"d":"2022-03","p":291},{"d":"2022-04","p":232},{"d":"2022-05","p":182},{"d":"2022-06","p":131},{"d":"2022-07","p":87},{"d":"2022-08","p":70},{"d":"2022-09","p":81},{"d":"2022-10","p":105},{"d":"2022-11","p":143},{"d":"2022-12","p":182},
{"d":"2023-01","p":193},{"d":"2023-02","p":229},{"d":"2023-03","p":235},{"d":"2023-04","p":205},{"d":"2023-05","p":157},{"d":"2023-06","p":108},{"d":"2023-07","p":64},{"d":"2023-08","p":48},{"d":"2023-09","p":59},{"d":"2023-10","p":82},{"d":"2023-11","p":119},{"d":"2023-12","p":157},
{"d":"2024-01","p":179},{"d":"2024-02","p":211},{"d":"2024-03","p":217},{"d":"2024-04","p":190},{"d":"2024-05","p":148},{"d":"2024-06","p":105},{"d":"2024-07","p":67},{"d":"2024-08","p":53},{"d":"2024-09","p":62},{"d":"2024-10","p":83},{"d":"2024-11","p":115},{"d":"2024-12","p":148},
{"d":"2025-01","p":200},{"d":"2025-02","p":221},{"d":"2025-03","p":249},{"d":"2025-04","p":215},{"d":"2025-05","p":165},{"d":"2025-06","p":120},{"d":"2025-07","p":90},{"d":"2025-08","p":81},{"d":"2025-09","p":114},{"d":"2025-10","p":133},{"d":"2025-11","p":187}
      ]},
      "mark": {"type": "line", "interpolate": "step-after", "stroke": "black", "strokeWidth": 2},
      "encoding": {
        "x": {
          "field": "d", "type": "temporal",
          "scale": {"type": "utc", "domain": [{"year": 1894, "utc": true}, {"year": 2030, "utc": true}], "nice": false},
          "axis": {
            "orient": "bottom", "title": null, "format": "%Y",
            "values": [{"year":1894,"utc":true},{"year":1900,"utc":true},{"year":1910,"utc":true},{"year":1920,"utc":true},{"year":1930,"utc":true},{"year":1940,"utc":true},{"year":1950,"utc":true},{"year":1960,"utc":true},{"year":1970,"utc":true},{"year":1980,"utc":true},{"year":1990,"utc":true},{"year":2000,"utc":true},{"year":2010,"utc":true},{"year":2020,"utc":true},{"year":2030,"utc":true}]
          }
        },
        "y": {
          "field": "p", "type": "quantitative",
          "scale": {"domain": [0, 700], "nice": false, "zero": true},
          "axis": {
            "orient": "left", "title": "Monthly precipitation (mm)", "titlePadding": 22,
            "values": [0,50,100,150,200,250,300,350,400,450,500,550,600,650,700]
          }
        }
      }
    },
    {
      "data": {"values": [{"d": "1894-01", "v": 205.08}, {"d": "2025-11", "v": 171.06}]},
      "mark": {"type": "line", "stroke": "black", "strokeWidth": 3.3, "strokeDash": [12, 5]},
      "encoding": {
        "x": {
          "field": "d", "type": "temporal",
          "axis": {
            "orient": "top", "title": null, "format": "%Y",
            "values": [{"year":1894,"utc":true},{"year":1900,"utc":true},{"year":1910,"utc":true},{"year":1920,"utc":true},{"year":1930,"utc":true},{"year":1940,"utc":true},{"year":1950,"utc":true},{"year":1960,"utc":true},{"year":1970,"utc":true},{"year":1980,"utc":true},{"year":1990,"utc":true},{"year":2000,"utc":true},{"year":2010,"utc":true},{"year":2020,"utc":true},{"year":2030,"utc":true}]
          }
        },
        "y": {
          "field": "v", "type": "quantitative",
          "axis": {
            "orient": "right", "title": null,
            "values": [0,50,100,150,200,250,300,350,400,450,500,550,600,650,700]
          }
        }
      }
    },
    {
      "data": {"values": [{"mean": 188.07}]},
      "mark": {"type": "rule", "stroke": "black", "strokeWidth": 3.3, "strokeDash": [3.3, 5.5]},
      "encoding": {
        "y": {"field": "mean", "type": "quantitative", "axis": null}
      }
    },
    {
      "data": {"values": [{"label": "Period mean = 188.07 mm/month\u00a0\u00a0\u00a0|\u00a0\u00a0\u00a0Linear trend = -0.258 mm/year"}]},
      "mark": {"type": "text", "font": "DejaVu Serif", "fontSize": 41.7, "color": "black", "align": "center", "baseline": "middle"},
      "encoding": {
        "text": {"field": "label"},
        "x": {"datum": {"year": 1962, "utc": true}, "type": "temporal", "axis": null},
        "y": {"datum": 665, "type": "quantitative", "axis": null}
      }
    }
  ]
}
